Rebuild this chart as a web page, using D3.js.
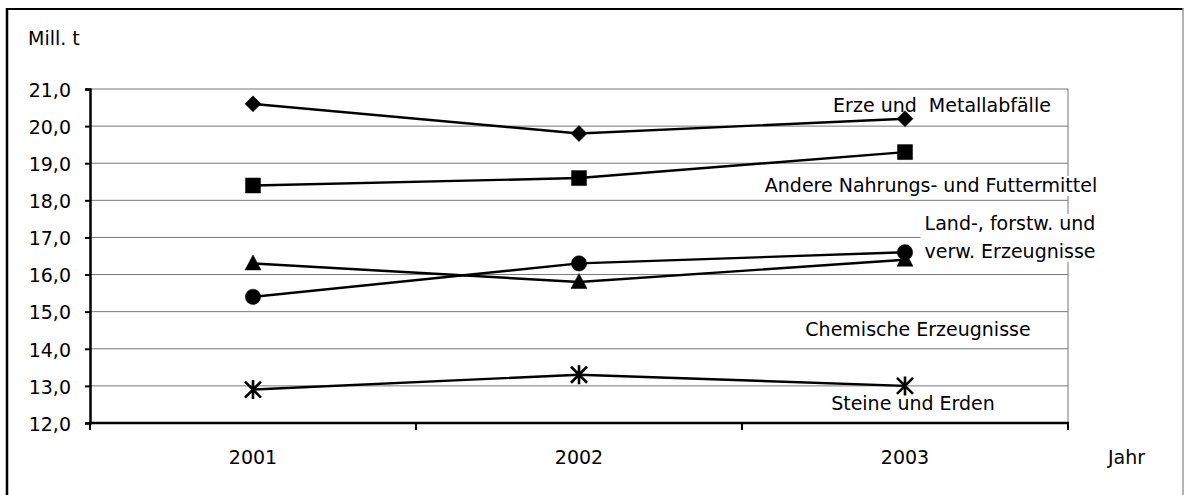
<!DOCTYPE html>
<html>
<head>
<meta charset="utf-8">
<script src="https://cdn.jsdelivr.net/npm/d3@7"></script>
<style>
  html, body { margin: 0; padding: 0; background: #fff; }
  svg text { font-family: "DejaVu Sans", sans-serif; font-size: 19px; letter-spacing: 0px; fill: #000; white-space: pre; }
</style>
</head>
<body>
<svg id="chart" width="1184" height="495"></svg>
<script>
// ---- data ----
const years = ["2001", "2002", "2003"];
const yTicks = [12, 13, 14, 15, 16, 17, 18, 19, 20, 21];
const seriesNames = [
  "Erze und  Metallabfälle",
  "Andere Nahrungs- und Futtermittel",
  "Land-, forstw. und verw. Erzeugnisse",
  "Chemische Erzeugnisse",
  "Steine und Erden"
];
const erze = [20.6, 19.8, 20.2];
const nahrung = [18.4, 18.6, 19.3];
const land = [15.4, 16.3, 16.6];
const chemie = [16.3, 15.8, 16.4];
const steine = [12.9, 13.3, 13.0];
const yUnit = "Mill. t";
const xUnit = "Jahr";

// ---- layout ----
const svg = d3.select("#chart");
const L = 90, R = 1068, T = 89, B = 423;
const x = d3.scaleBand().domain(years).range([L, R]).padding(0);
const y = d3.scaleLinear().domain([12, 21]).range([B, T]);
const cx = d => x(d) + x.bandwidth() / 2;
const fmt = v => d3.format(".1f")(v).replace(".", ",");

// outer frame
svg.append("line").attr("x1", 7).attr("y1", 9).attr("x2", 1183).attr("y2", 9).attr("stroke", "#000").attr("stroke-width", 2);
svg.append("line").attr("x1", 7).attr("y1", 8).attr("x2", 7).attr("y2", 495).attr("stroke", "#000").attr("stroke-width", 2.5);
svg.append("line").attr("x1", 1183).attr("y1", 8).attr("x2", 1183).attr("y2", 495).attr("stroke", "#999").attr("stroke-width", 1.5);

// gridlines
svg.append("g").selectAll("line").data(yTicks.filter(t => t > 12)).join("line")
  .attr("x1", L).attr("x2", R).attr("y1", d => y(d)).attr("y2", d => y(d))
  .attr("stroke", "#777").attr("stroke-width", 1);
// plot right border
svg.append("line").attr("x1", R).attr("x2", R).attr("y1", T).attr("y2", B).attr("stroke", "#777").attr("stroke-width", 1);

// y axis
const yAxis = svg.append("g").attr("transform", `translate(${L},0)`)
  .call(d3.axisLeft(y).tickValues(yTicks).tickFormat(fmt).tickSize(5).tickPadding(14));
yAxis.select(".domain").attr("stroke", "#000").attr("stroke-width", 2.5);
yAxis.selectAll(".tick line").attr("stroke", "#000").attr("stroke-width", 2);
yAxis.selectAll("text").attr("font-size", null).attr("font-family", null).attr("dy", "0.38em");

// x axis (ticks between categories)
svg.append("line").attr("x1", L - 1).attr("x2", R + 1).attr("y1", B).attr("y2", B).attr("stroke", "#000").attr("stroke-width", 2.5);
const bounds = years.map(d => x(d)).concat([R]);
svg.append("g").selectAll("line").data(bounds).join("line")
  .attr("x1", d => d).attr("x2", d => d).attr("y1", B).attr("y2", B + 7)
  .attr("stroke", "#000").attr("stroke-width", 2);
svg.append("g").selectAll("text").data(years).join("text")
  .attr("x", d => cx(d)).attr("y", 464).attr("text-anchor", "middle").text(d => d);

// units
svg.append("text").attr("x", 28).attr("y", 45).text(yUnit);
svg.append("text").attr("x", 1108).attr("y", 464).text(xUnit);

// series labels (with white background boxes)
const labelPos = [
  { lines: [seriesNames[0]], x: 942, y: 112 },
  { lines: [seriesNames[1]], x: 931, y: 192 },
  { lines: ["Land-, forstw. und", "verw. Erzeugnisse"], x: 1010, y: 230 },
  { lines: [seriesNames[3]], x: 918, y: 336 },
  { lines: [seriesNames[4]], x: 913, y: 410 }
];
const lg = svg.append("g");
labelPos.forEach(p => {
  const g = lg.append("g");
  const rect = g.append("rect").attr("fill", "#fff");
  const t = g.append("text").attr("text-anchor", "middle");
  p.lines.forEach((ln, i) => {
    t.append("tspan").attr("x", p.x).attr("y", p.y + i * 28).text(ln);
  });
  const bb = t.node().getBBox();
  rect.attr("x", bb.x - 4).attr("y", bb.y + 2).attr("width", bb.width + 8).attr("height", bb.height - 2);
});

// series
const allSeries = [
  { values: erze, marker: "diamond" },
  { values: nahrung, marker: "square" },
  { values: land, marker: "circle" },
  { values: chemie, marker: "triangle" },
  { values: steine, marker: "star" }
];
const line = d3.line().x((v, i) => cx(years[i])).y(v => y(v));
const markerPath = {
  diamond: "M0,-8L8,0L0,8L-8,0Z",
  square: "M-7.5,-7.5L7.5,-7.5L7.5,7.5L-7.5,7.5Z",
  circle: d3.symbol().type(d3.symbolCircle).size(185)(),
  triangle: "M0,-8.5L8,6.5L-8,6.5Z",
  star: "M0,-9.5L0,9.5M-8,-8L8,8M-8,8L8,-8"
};
allSeries.forEach(s => {
  const g = svg.append("g");
  g.append("path").attr("d", line(s.values)).attr("fill", "none").attr("stroke", "#000").attr("stroke-width", 2.4);
  g.selectAll("path.m").data(s.values).join("path").attr("class", "m")
    .attr("transform", (v, i) => `translate(${cx(years[i])},${y(v)})`)
    .attr("d", markerPath[s.marker])
    .attr("fill", s.marker === "star" ? "none" : "#000")
    .attr("stroke", "#000").attr("stroke-width", s.marker === "star" ? 2.6 : 0.5);
});
</script>
</body>
</html>
